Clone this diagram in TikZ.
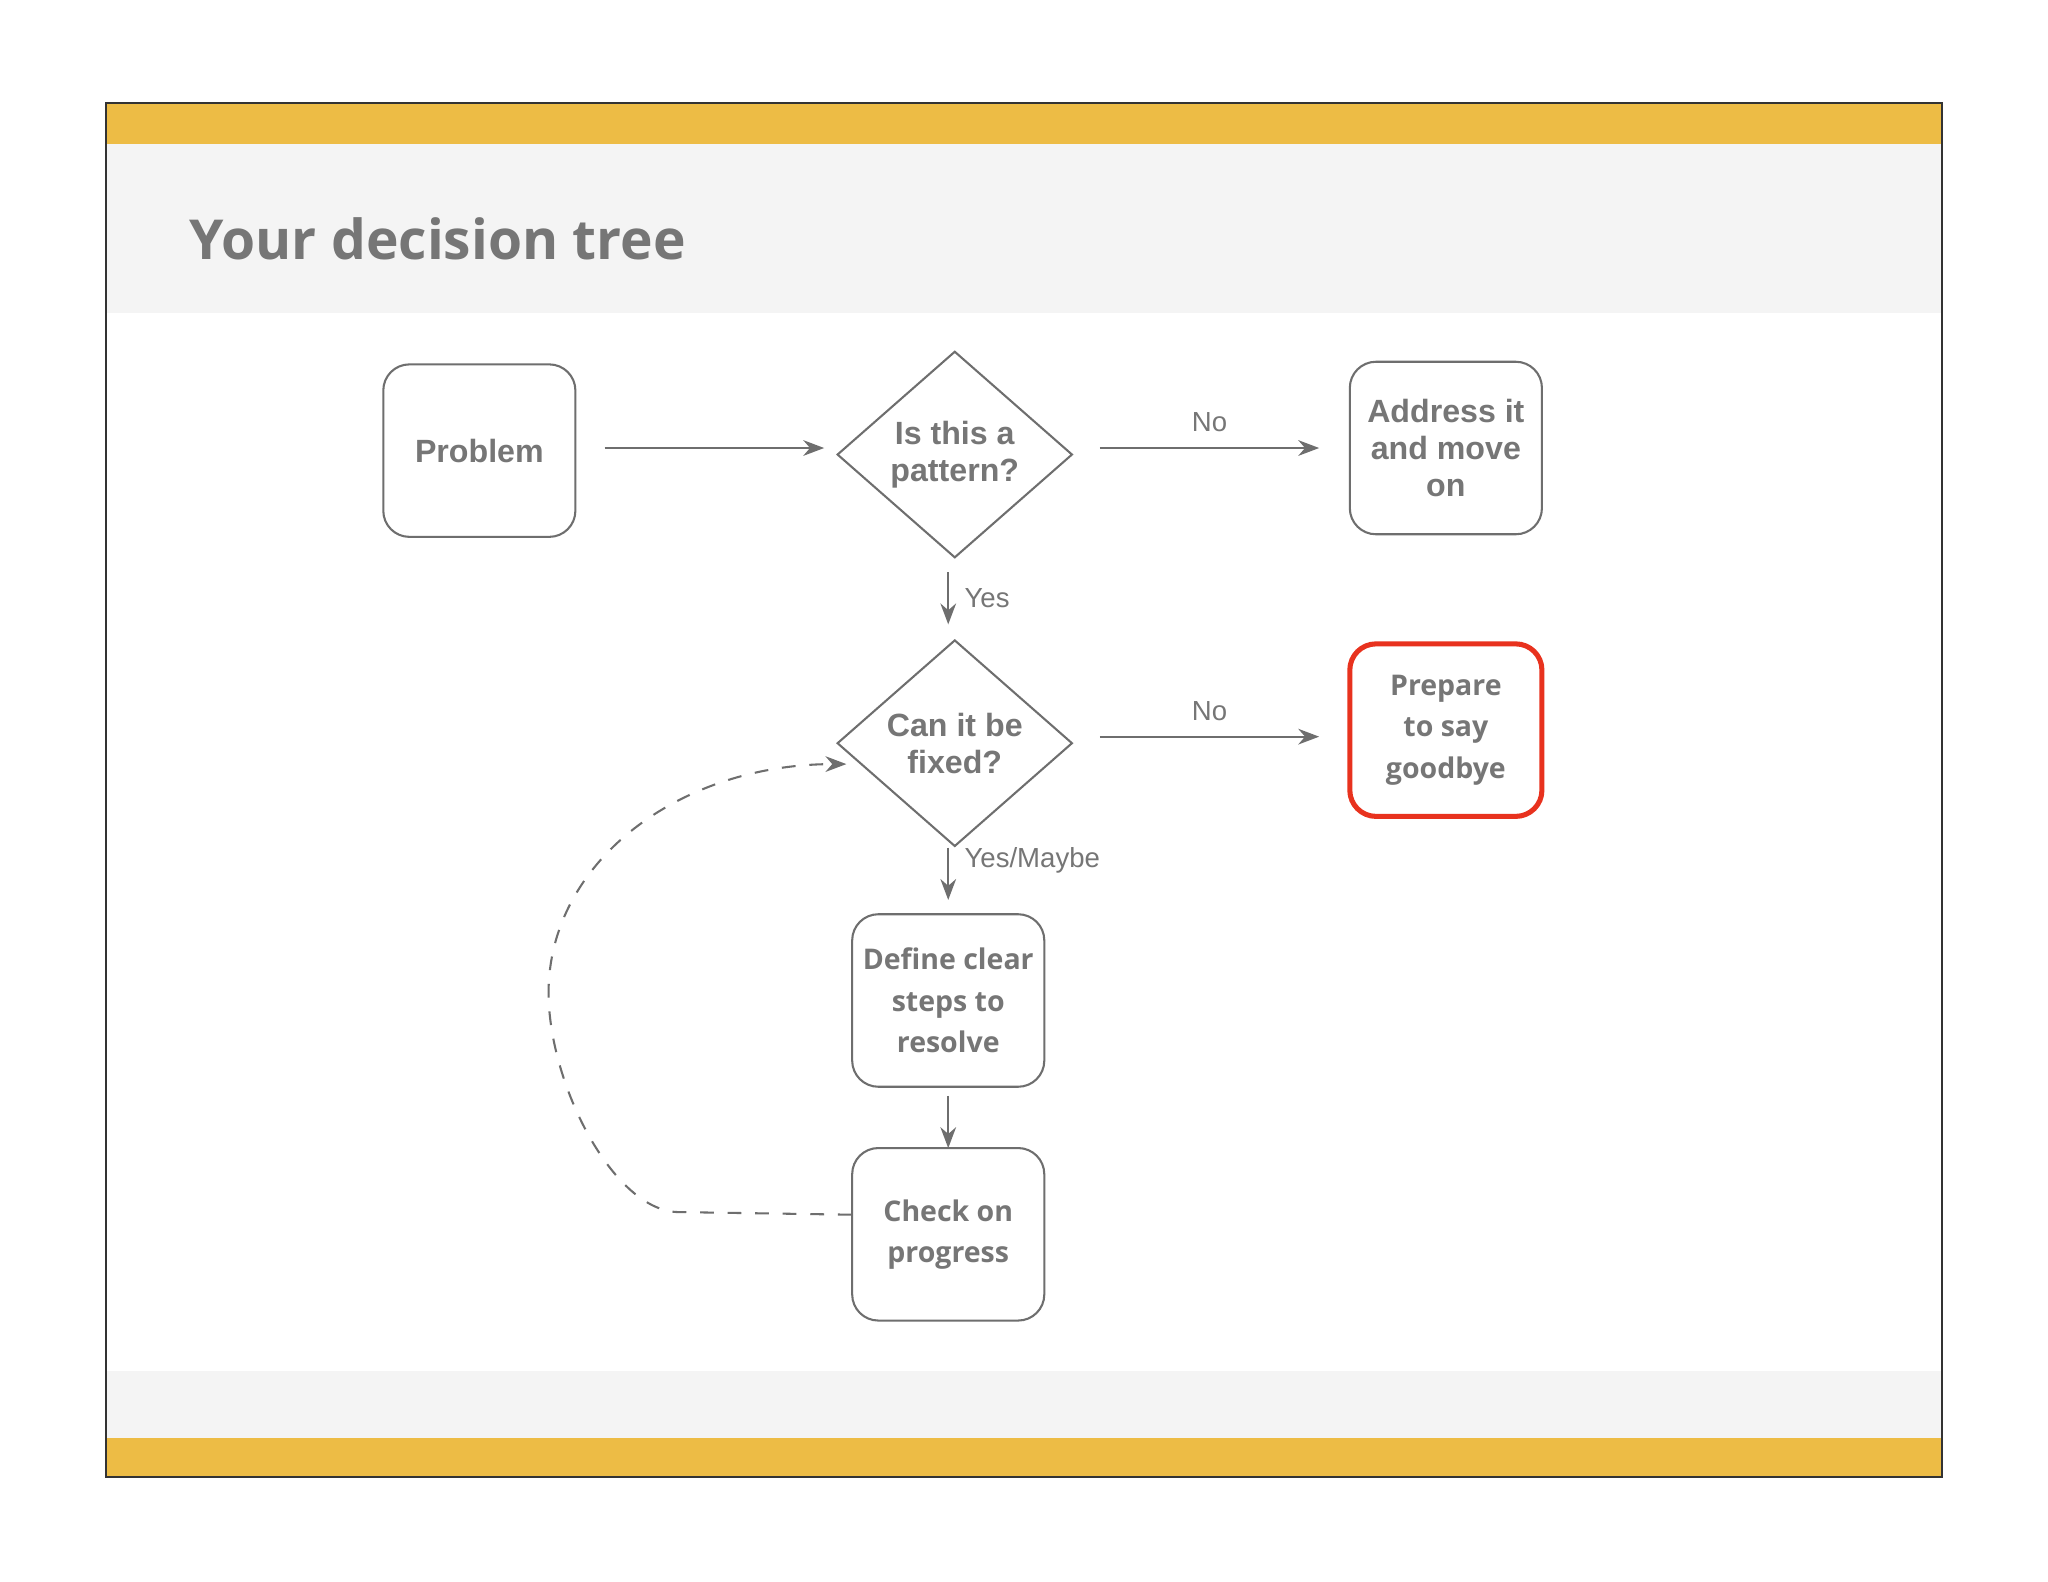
\documentclass[tikz,border=0pt]{standalone}
\usepackage{fontspec}
\setmainfont{Open Sans}
\newfontfamily\hel{Liberation Sans}
\usetikzlibrary{shapes.geometric,arrows.meta}
\definecolor{txt}{HTML}{767676}
\definecolor{ln}{HTML}{6E6E6E}
\definecolor{band}{HTML}{EDBC45}
\definecolor{hdr}{HTML}{F4F4F4}
\definecolor{redb}{HTML}{E8321E}
\begin{document}
\begin{tikzpicture}[x=0.01cm,y=-0.01cm,
  box/.style={draw=ln,line width=0.45pt,rounded corners=0.2cm,minimum width=1.47cm,minimum height=1.32cm,align=center,font=\fontsize{6.2}{9}\selectfont\bfseries,text=txt,inner sep=0pt},
  hbox/.style={box,font=\hel\fontsize{7}{8}\selectfont\bfseries},
  dia/.style={draw=ln,line width=0.45pt,diamond,minimum width=1.8cm,minimum height=1.58cm,align=center,font=\hel\fontsize{7}{8}\selectfont\bfseries,text=txt,inner sep=0pt},
  arr/.style={draw=ln,line width=0.45pt,-{Stealth[length=1.6mm,width=1.2mm]}},
  lab/.style={font=\hel\fontsize{6}{7}\selectfont,text=txt}]
\useasboundingbox (0,0) rectangle (1568,1211);
\fill[white] (0,0) rectangle (1568,1211);
\fill[hdr] (81,110) rectangle (1487,240);
\fill[hdr] (81,1050) rectangle (1487,1101);
\fill[band] (81,79) rectangle (1487,110);
\fill[band] (81,1101) rectangle (1487,1131);
\draw[line width=0.4pt,black!80] (81,79) rectangle (1487,1131);
\node[anchor=west,text=txt,font=\fontsize{12}{14}\selectfont\bfseries] (title) at (133,183) {Your decision tree};
\node[hbox] (prob) at (367,345) {Problem};
\node[dia] (d1) at (731,348) {Is this a\\pattern?};
\node[hbox] (addr) at (1107,343) {Address it\\and move\\on};
\node[dia] (d2) at (731,569) {Can it be\\fixed?};
\node[box,draw=redb,line width=1.1pt] (prep) at (1107,559) {Prepare\\to say\\goodbye};
\node[box] (def) at (726,766) {Define clear\\steps to\\resolve};
\node[box] (chk) at (726,945) {Check on\\progress};
\coordinate (p1) at (463,343); \coordinate (q1) at (631,343);
\coordinate (p2) at (842,343); \coordinate (q2) at (1010,343);
\coordinate (p3) at (726,438); \coordinate (q3) at (726,478);
\coordinate (p4) at (842,564); \coordinate (q4) at (1010,564);
\coordinate (p5) at (726,649); \coordinate (q5) at (726,689);
\coordinate (p6) at (726,839); \coordinate (q6) at (726,879);
\coordinate (c0) at (652,930); \coordinate (c1) at (520,928); \coordinate (c2) at (420,760); \coordinate (c3) at (648,585);
\draw[arr] (p1) -- (q1);
\draw[arr] (p2) -- node[lab,above]{No} (q2);
\draw[arr] (p3) -- node[lab,right]{Yes} (q3);
\draw[arr] (p4) -- node[lab,above]{No} (q4);
\draw[arr] (p5) -- node[lab,right,yshift=3pt]{Yes/Maybe} (q5);
\draw[arr] (p6) -- (q6);
\draw[ln,line width=0.45pt,dashed,-{Stealth[length=1.6mm,width=1.2mm]}] (c0) -- (c1) .. controls (470,928) and (420,830) .. (c2) .. controls (420,660) and (520,585) .. (c3);
\end{tikzpicture}
\end{document}
